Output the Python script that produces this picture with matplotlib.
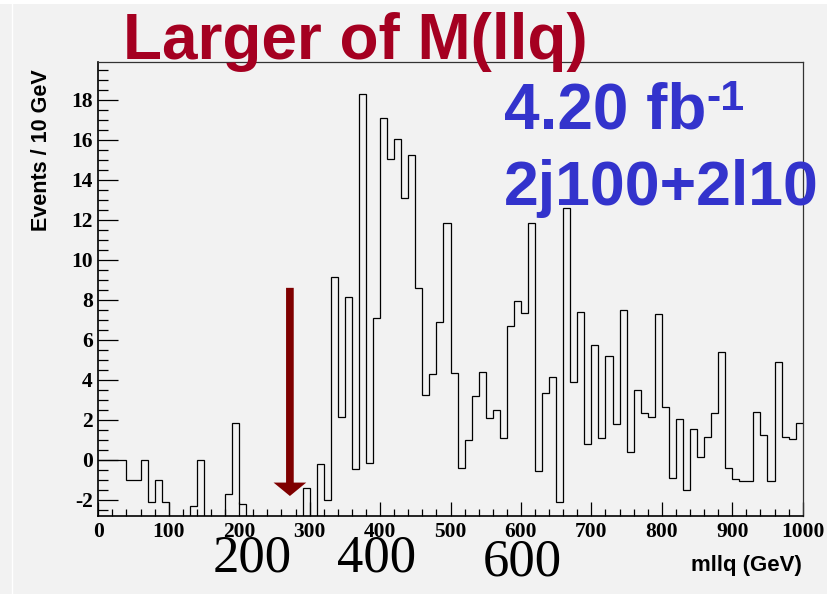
import matplotlib
matplotlib.use("Agg")
import matplotlib.pyplot as plt
from matplotlib.ticker import MultipleLocator
from matplotlib.patches import Rectangle
from matplotlib.lines import Line2D
import numpy as np

# ---- data: background-subtracted m(llq) spectrum, 10 GeV bins ----
bin_width_gev = 10
mass_min_gev, mass_max_gev = 0, 1000
events_per_bin = [
    0.0, 0.0, 0.0, 0.0, -1.0, -1.0, 0.0, -2.1, -1.0, -2.1,            # 0-100
    -3.0, -3.0, -3.0, -2.3, 0.0, -3.0, -3.0, -3.0, -1.7, 1.87,        # 100-200
    -2.2, -3.0, -3.0, -3.0, -3.0, -3.0, -3.0, -3.0, -3.0, -1.42,      # 200-300
    -3.0, -0.2, -2.0, 9.13, 2.17, 8.13, -0.45, 18.27, -0.17, 7.08,    # 300-400
    17.1, 15.05, 16.03, 13.08, 15.23, 8.6, 3.27, 4.32, 6.9, 11.85,    # 400-500
    4.35, -0.38, 1.0, 3.22, 4.42, 2.08, 2.5, 1.12, 6.67, 7.92,        # 500-600
    7.33, 11.85, -0.55, 3.33, 4.17, -2.08, 12.58, 3.92, 7.37, 0.8,    # 600-700
    5.75, 1.08, 5.17, 1.78, 7.47, 0.38, 3.5, 2.37, 2.13, 7.3,         # 700-800
    2.67, -0.92, 2.03, -1.5, 1.53, 0.13, 1.17, 2.33, 5.38, -0.38,     # 800-900
    -0.97, -1.05, -1.05, 2.42, 1.25, -1.05, 4.9, 1.17, 1.03, 1.83,    # 900-1000
]
bin_edges = np.arange(mass_min_gev, mass_max_gev + bin_width_gev, bin_width_gev)

x_tick_values = list(range(0, 1001, 100))
y_tick_values = list(range(-2, 19, 2))

# mass cut marker
cut_mass_gev = 272
cut_arrow_top = 8.6
cut_arrow_tip = -1.8

title_text = "Larger of M(llq)"
lumi_text = "4.20 fb"
lumi_exp_text = "-1"
selection_text = "2j100+2l10"
slide_marks = ["200", "400", "600"]

# ---- styling ----
W, H = 828, 594
bg = "#f2f2f2"
title_red = "#a50021"
label_blue = "#3333cc"
arrow_red = "#7f0000"
sans = "Liberation Sans"
serif = "Liberation Serif"

plt.rcParams["axes.unicode_minus"] = False

fig = plt.figure(figsize=(W / 100, H / 100), dpi=100, facecolor=bg)


def fx(px):
    return px / W


def fy(py):
    return 1 - py / H


ax_left, ax_right, ax_top, ax_bottom = 98.3, 802.7, 61.7, 516.0
ax = fig.add_axes([fx(ax_left), fy(ax_bottom), fx(ax_right - ax_left), (ax_bottom - ax_top) / H])
ax.set_facecolor(bg)

ax.stairs(events_per_bin, bin_edges, baseline=None, color="black", linewidth=0.9, zorder=3)

ax.set_xlim(mass_min_gev, mass_max_gev)
ax.set_ylim(-2.8, 19.9)

ax.xaxis.set_major_locator(MultipleLocator(100))
ax.xaxis.set_minor_locator(MultipleLocator(20))
ax.yaxis.set_major_locator(MultipleLocator(2))
ax.yaxis.set_minor_locator(MultipleLocator(0.5))
ax.set_xticks(x_tick_values)
ax.set_yticks(y_tick_values)
ax.set_xticklabels([str(v) for v in x_tick_values])
ax.set_yticklabels([str(v) for v in y_tick_values])

ax.tick_params(axis="y", which="major", direction="in", length=14.4, width=0.9,
               pad=4.0, right=False)
ax.tick_params(axis="y", which="minor", direction="in", length=7.2, width=0.9, right=False)
ax.tick_params(axis="x", which="major", direction="in", length=10.0, width=0.9,
               pad=4.6, top=False)
ax.tick_params(axis="x", which="minor", direction="in", length=5.0, width=0.9, top=False)
for lab in ax.get_xticklabels() + ax.get_yticklabels():
    lab.set_fontfamily(serif)
    lab.set_fontweight("bold")
    lab.set_fontsize(15.5)

for side in ("left", "bottom"):
    ax.spines[side].set_linewidth(1.2)
    ax.spines[side].set_color("black")
for side in ("top", "right"):
    ax.spines[side].set_linewidth(0.9)
    ax.spines[side].set_color("#333333")

# cut arrow
ax.arrow(cut_mass_gev, cut_arrow_top, 0, cut_arrow_tip - cut_arrow_top,
         width=10.9, head_width=46.4, head_length=0.67, length_includes_head=True,
         color=arrow_red, linewidth=0, zorder=4)

# axis titles
fig.text(fx(41.5), fy(150), "Events / 10 GeV", rotation=90, ha="center", va="center",
         fontfamily=sans, fontweight="bold", fontsize=15.5)
fig.text(fx(801.7), fy(571), "mllq (GeV)", ha="right", va="baseline",
         fontfamily=sans, fontweight="bold", fontsize=16)

# headline texts
fig.text(fx(122.7), fy(59.3), title_text, ha="left", va="baseline",
         fontfamily=sans, fontweight="bold", fontsize=46, color=title_red, zorder=5)
fig.text(fx(503.7), fy(128.3), lumi_text, ha="left", va="baseline",
         fontfamily=sans, fontweight="bold", fontsize=46, color=label_blue, zorder=5)
fig.text(fx(706), fy(110), lumi_exp_text, ha="left", va="baseline",
         fontfamily=sans, fontweight="bold", fontsize=31, color=label_blue, zorder=5)
fig.text(fx(504), fy(205), selection_text, ha="left", va="baseline",
         fontfamily=sans, fontweight="bold", fontsize=45, color=label_blue, zorder=5)

# large serif numbers along the bottom
mark_pos = [(251.7, 571.7), (376.7, 571.7), (522.0, 576.0)]
for txt, (px, py) in zip(slide_marks, mark_pos):
    fig.text(fx(px), fy(py), txt, ha="center", va="baseline",
             fontfamily=serif, fontsize=38, color="black")

# thin white edges of the slide
fig.add_artist(Rectangle((0, fy(3.5)), 1, 3.5 / H, transform=fig.transFigure,
                         facecolor="white", edgecolor="none", zorder=6))
fig.add_artist(Line2D([fx(11.7), fx(11.7)], [0, fy(3.5)], transform=fig.transFigure,
                      color="white", linewidth=1.0, zorder=6))

fig.savefig("out.png", dpi=100, facecolor=bg)
